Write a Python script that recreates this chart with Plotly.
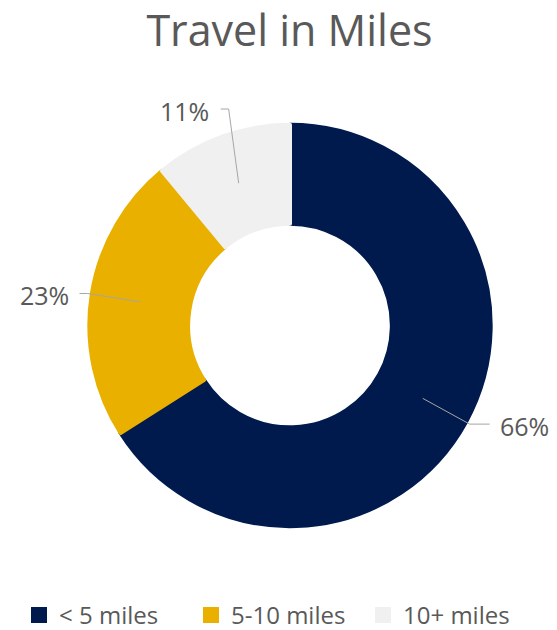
import math
import plotly.graph_objects as go

# ---- data ----
labels = ["< 5 miles", "5-10 miles", "10+ miles"]
values = [66, 23, 11]
colors = ["#001A4E", "#E9B000", "#F0F0F0"]

# ---- layout constants (pixels, screen coords of the 557x630 view) ----
OFF = 8                      # page body margin in the browser
W, H = 549, 630
CX, CY = 290, 326
R_OUT, R_IN = 203, 100       # visual outer / inner radius
LW = 4                       # slice outline (same colour as slice) -> bigger legend swatches
R_DOM = R_OUT - LW / 2
HOLE = (R_IN + LW / 2) / R_DOM
label_radius = [1.01, 1.01, 1.11]
label_angle_shift = [0, 0, 4]
SEG = [20, 8, 8]
GAP = [8, 8, 10]
TEXT_COLOR = "#595959"
FONT = "Open Sans"


def px(x, y):
    """screen pixel -> paper fraction"""
    return (x - OFF) / W, 1 - (y - OFF) / H


d0 = px(CX - R_DOM, CY + R_DOM)
d1 = px(CX + R_DOM, CY - R_DOM)
fig = go.Figure(
    go.Pie(
        labels=labels,
        values=values,
        marker=dict(colors=colors, line=dict(color=colors, width=LW)),
        hole=HOLE,
        sort=False,
        direction="clockwise",
        rotation=0,
        textinfo="none",
        hoverinfo="label+percent",
        domain=dict(x=[d0[0], d1[0]], y=[d0[1], d1[1]]),
    )
)

total = sum(values)
cum = 0
shapes = []
annotations = []
for i, v in enumerate(values):
    mid = (cum + v / 2) / total * 360
    cum += v
    a0 = math.radians(mid)
    rm = (R_OUT + R_IN) / 2
    x0, y0 = CX + rm * math.sin(a0), CY - rm * math.cos(a0)
    a1 = math.radians(mid + label_angle_shift[i])
    re = R_OUT * label_radius[i]
    x1, y1 = CX + re * math.sin(a1), CY - re * math.cos(a1)
    side = 1 if math.sin(a1) > 0 else -1
    x2 = x1 + side * SEG[i]
    p0, p1, p2 = px(x0, y0), px(x1, y1), px(x2, y1)
    shapes.append(dict(
        type="path", xref="paper", yref="paper",
        path=f"M {p0[0]},{p0[1]} L {p1[0]},{p1[1]} L {p2[0]},{p2[1]}",
        line=dict(color="#A6A6A6", width=1),
    ))
    tx, ty = px(x2 + side * GAP[i], y1 + 2)
    annotations.append(dict(
        x=tx, y=ty, xref="paper", yref="paper",
        text=f"{round(v / total * 100)}%", showarrow=False,
        xanchor="left" if side > 0 else "right", yanchor="middle",
        font=dict(family=FONT, size=25, color=TEXT_COLOR),
    ))

tpos = px(289.5, 31)
lpos = px(19, 616)
fig.update_layout(
    width=W, height=H,
    margin=dict(l=0, r=0, t=0, b=0),
    paper_bgcolor="white",
    plot_bgcolor="white",
    title=dict(
        text="Travel in Miles", x=tpos[0], xanchor="center",
        y=tpos[1], yanchor="middle", yref="container", xref="container",
        font=dict(family=FONT, size=43, color=TEXT_COLOR),
    ),
    legend=dict(
        orientation="h", x=lpos[0], xanchor="left", y=lpos[1], yanchor="middle",
        font=dict(family=FONT, size=24, color=TEXT_COLOR),
        traceorder="normal",
        entrywidth=127, entrywidthmode="pixels",
    ),
    shapes=shapes,
    annotations=annotations,
)

fig.write_html("out.html")
